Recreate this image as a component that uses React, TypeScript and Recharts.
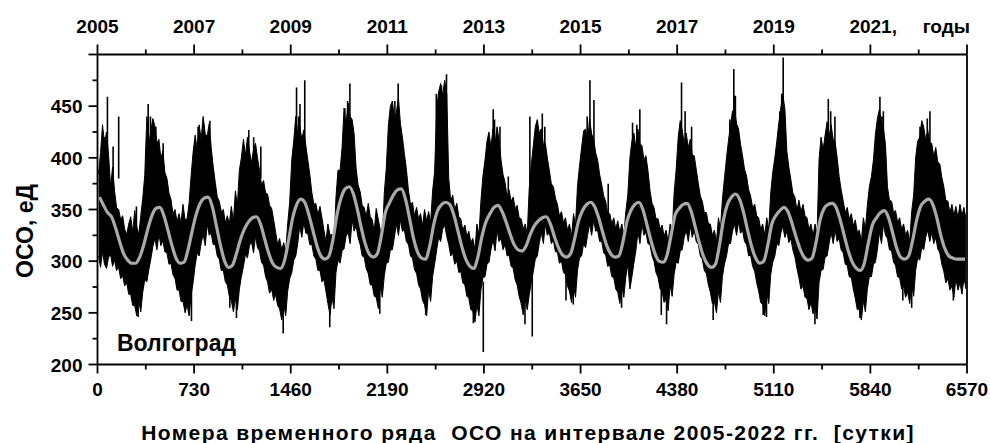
import React from "react";
import { ComposedChart, Area, Line, XAxis, YAxis, ReferenceLine } from "recharts";

// day ticks along the bottom axis (odd years are minor ticks)
const dayTicks = [
  0, 365, 730, 1095, 1460, 1825, 2190, 2555, 2920, 3285, 3650, 4015, 4380, 4745, 5110, 5475, 5840, 6205, 6570,
];
const ozoneTicks = [200, 225, 250, 275, 300, 325, 350, 375, 400, 425, 450, 475, 500];
const ozoneLabels = [200, 250, 300, 350, 400, 450];
const yearLabels = ["2005", "2007", "2009", "2011", "2013", "2015", "2017", "2019", "2021,", "годы"];

// upper edge of the daily series, two values per month (2005..2022)
const upper = [
  385, 405, 432, 414, 425, 402, 372, 391, 368, 352, 350, 340, 344, 331, 326, 336, 343, 328, 349, 333, 326, 344, 361, 383,
  440, 414, 426, 438, 431, 414, 418, 399, 407, 386, 380, 366, 360, 346, 350, 338, 346, 337, 355, 340, 341, 356, 382, 405,
  422, 408, 432, 418, 440, 423, 421, 433, 410, 392, 376, 362, 358, 348, 350, 337, 344, 336, 353, 339, 368, 354, 388, 400,
  418, 402, 420, 407, 395, 408, 414, 400, 388, 374, 378, 366, 365, 354, 351, 340, 328, 316, 322, 311, 318, 309, 336, 357,
  398, 417, 440, 423, 431, 418, 427, 412, 398, 384, 366, 355, 356, 345, 353, 342, 330, 319, 336, 325, 326, 315, 362, 388,
  388, 410, 448, 432, 453, 440, 437, 423, 390, 374, 367, 354, 352, 343, 356, 343, 340, 329, 351, 340, 330, 318, 366, 390,
  432, 450, 455, 438, 444, 458, 433, 420, 404, 389, 368, 355, 357, 344, 352, 341, 346, 334, 350, 339, 348, 337, 368, 386,
  448, 464, 472, 460, 475, 462, 380, 358, 364, 350, 356, 343, 341, 330, 335, 324, 329, 318, 322, 311, 336, 325, 358, 382,
  398, 416, 425, 410, 428, 414, 430, 417, 398, 384, 376, 362, 369, 358, 362, 351, 354, 342, 341, 331, 336, 326, 370, 392,
  412, 430, 437, 424, 428, 413, 414, 400, 388, 375, 372, 361, 355, 344, 348, 337, 342, 330, 336, 324, 346, 335, 373, 392,
  410, 426, 428, 414, 438, 423, 418, 405, 398, 384, 374, 363, 358, 346, 346, 336, 342, 331, 339, 328, 336, 325, 348, 364,
  400, 416, 424, 410, 428, 413, 412, 398, 402, 388, 368, 356, 352, 341, 341, 331, 335, 324, 330, 319, 336, 325, 366, 388,
  420, 436, 427, 414, 424, 410, 418, 403, 402, 389, 375, 363, 358, 347, 347, 336, 336, 325, 330, 319, 342, 331, 360, 380,
  400, 417, 432, 445, 448, 433, 428, 413, 402, 389, 382, 369, 363, 352, 355, 344, 342, 331, 336, 325, 342, 331, 366, 386,
  400, 416, 434, 448, 462, 447, 406, 391, 379, 366, 362, 349, 359, 348, 355, 344, 342, 331, 336, 325, 336, 325, 398, 420,
  408, 422, 435, 420, 432, 418, 415, 400, 382, 369, 358, 347, 352, 341, 346, 334, 340, 328, 330, 319, 342, 331, 354, 372,
  382, 398, 423, 438, 447, 434, 428, 413, 372, 359, 358, 347, 349, 338, 342, 331, 336, 325, 330, 319, 348, 364, 400, 416,
  420, 436, 430, 417, 427, 414, 414, 401, 410, 396, 394, 381, 372, 359, 358, 347, 355, 344, 353, 342, 355, 344, 352, 341,
];

// lower edge of the daily series, two values per month
const lower = [
  305, 294, 309, 297, 293, 304, 306, 295, 301, 291, 294, 283, 286, 276, 279, 268, 268, 257, 257, 247, 262, 251, 270, 282,
  280, 292, 302, 314, 322, 311, 326, 315, 320, 309, 308, 297, 298, 287, 283, 272, 272, 261, 261, 250, 258, 247, 267, 279,
  296, 308, 305, 317, 326, 315, 336, 325, 327, 316, 316, 305, 302, 291, 291, 280, 277, 266, 262, 251, 264, 253, 273, 285,
  295, 307, 303, 315, 319, 308, 324, 313, 310, 299, 296, 285, 280, 269, 273, 262, 268, 257, 254, 243, 258, 247, 271, 283,
  289, 301, 305, 317, 334, 323, 338, 327, 327, 316, 316, 305, 302, 291, 291, 280, 282, 271, 259, 248, 265, 254, 289, 301,
  298, 310, 312, 324, 328, 317, 340, 329, 334, 323, 316, 305, 304, 293, 288, 277, 277, 266, 265, 254, 276, 265, 286, 298,
  299, 311, 311, 323, 336, 325, 340, 329, 330, 319, 316, 305, 303, 292, 288, 277, 273, 262, 258, 247, 272, 261, 285, 297,
  311, 323, 319, 331, 335, 324, 316, 305, 308, 297, 300, 289, 290, 279, 277, 266, 264, 253, 252, 241, 258, 247, 272, 284,
  285, 297, 299, 311, 321, 310, 330, 319, 322, 311, 316, 305, 306, 295, 293, 282, 277, 266, 259, 248, 264, 253, 267, 279,
  290, 302, 305, 317, 328, 317, 336, 325, 328, 317, 320, 309, 309, 298, 300, 289, 287, 276, 271, 260, 276, 265, 291, 303,
  305, 317, 313, 325, 336, 325, 340, 329, 330, 319, 319, 308, 306, 295, 296, 285, 284, 273, 270, 259, 276, 265, 285, 297,
  273, 285, 298, 310, 328, 317, 336, 325, 328, 317, 316, 305, 300, 289, 284, 273, 271, 260, 263, 252, 277, 266, 287, 299,
  298, 310, 311, 323, 330, 319, 334, 323, 330, 319, 316, 305, 302, 291, 288, 277, 270, 259, 261, 250, 271, 260, 285, 297,
  305, 317, 317, 329, 336, 325, 338, 327, 330, 319, 316, 305, 306, 295, 290, 279, 271, 260, 258, 247, 270, 259, 287, 299,
  305, 317, 315, 327, 334, 323, 329, 318, 322, 311, 304, 293, 284, 273, 276, 265, 264, 253, 260, 249, 255, 244, 279, 291,
  292, 304, 305, 317, 328, 317, 330, 319, 322, 311, 308, 297, 296, 285, 284, 273, 264, 253, 254, 243, 262, 251, 273, 285,
  285, 297, 299, 311, 328, 317, 336, 325, 322, 311, 310, 299, 296, 285, 284, 273, 276, 265, 270, 259, 277, 266, 291, 303,
  301, 313, 311, 323, 330, 319, 328, 317, 323, 312, 308, 297, 290, 279, 283, 272, 276, 265, 283, 272, 279, 268, 284, 273,
];

// smoothed series (grey curve), monthly
const smooth = [
  362, 354, 347, 343, 332, 319, 307, 301, 298, 298, 304, 316,
  331, 344, 351, 352, 344, 330, 315, 303, 298, 299, 311, 329,
  345, 356, 361, 362, 353, 335, 316, 301, 294, 296, 307, 321,
  331, 338, 342, 343, 336, 322, 308, 298, 294, 293, 301, 321,
  342, 355, 360, 357, 345, 330, 315, 305, 302, 305, 321, 345,
  361, 370, 372, 366, 351, 333, 317, 307, 304, 307, 324, 347,
  356, 364, 369, 370, 360, 342, 322, 309, 303, 302, 314, 335,
  349, 355, 357, 355, 345, 330, 314, 302, 295, 293, 304, 324,
  338, 346, 352, 354, 348, 338, 326, 316, 311, 310, 315, 326,
  334, 339, 342, 343, 336, 324, 313, 306, 304, 307, 321, 339,
  349, 355, 357, 353, 342, 328, 315, 307, 304, 305, 318, 338,
  349, 355, 357, 350, 335, 320, 307, 300, 299, 306, 325, 345,
  351, 355, 356, 348, 333, 318, 305, 297, 294, 297, 315, 340,
  355, 362, 365, 360, 347, 330, 314, 303, 298, 300, 315, 336,
  344, 349, 352, 348, 337, 324, 312, 304, 301, 303, 318, 340,
  351, 355, 356, 352, 340, 325, 310, 299, 293, 291, 298, 318,
  335, 342, 347, 349, 342, 328, 313, 304, 302, 305, 320, 340,
  353, 358, 360, 355, 342, 325, 312, 305, 303, 302, 302, 302,
];

// single-day extremes: [day, low, high]
const spikes: [number, number, number][] = [
  [50, 380, 420], [75, 390, 459], [118, 370, 411], [160, 380, 440], [294, 320, 353],
  [307, 246, 280], [383, 380, 452], [400, 390, 440], [441, 400, 430], [496, 380, 414],
  [710, 242, 290], [760, 400, 430], [805, 400, 432], [849, 400, 436], [1000, 255, 290],
  [1050, 245, 290], [1143, 390, 427], [1180, 390, 420], [1234, 380, 411], [1403, 230, 280],
  [1504, 400, 468], [1520, 400, 440], [1530, 400, 452], [1566, 400, 475], [1755, 236, 290],
  [1869, 400, 448], [1890, 420, 455], [1907, 400, 472], [2133, 249, 290], [2230, 410, 440],
  [2247, 400, 455], [2272, 400, 472], [2480, 248, 290], [2560, 420, 462], [2599, 420, 470],
  [2637, 420, 481], [2840, 240, 280], [2915, 212, 280], [2990, 390, 447], [3000, 400, 437],
  [3041, 390, 430], [3104, 340, 382], [3230, 239, 290], [3267, 360, 440], [3285, 227, 300],
  [3361, 390, 443], [3380, 400, 430], [3540, 262, 300], [3595, 258, 300], [3700, 400, 440],
  [3721, 390, 475], [3751, 390, 456], [3859, 320, 375], [3960, 255, 300], [4043, 380, 434],
  [4075, 400, 432], [4098, 390, 447], [4260, 248, 290], [4300, 239, 290], [4413, 390, 473],
  [4440, 400, 445], [4489, 380, 430], [4652, 243, 290], [4778, 400, 437], [4808, 400, 486],
  [4820, 420, 460], [5030, 248, 290], [5055, 246, 290], [5156, 400, 445], [5170, 420, 462],
  [5181, 420, 497], [5421, 239, 290], [5522, 390, 457], [5540, 400, 445], [5572, 390, 440],
  [5761, 245, 290], [5912, 390, 459], [5925, 400, 440], [5938, 390, 445], [6085, 262, 300],
  [6152, 255, 300], [6215, 380, 430], [6270, 400, 438], [6290, 390, 445], [6467, 262, 300],
];

const bandRows = upper.map((hi, i) => ({
  day: Math.round(((i + 0.5) * 365) / 24),
  band: [lower[i], hi],
}));

const smoothRows = smooth.map((v, i) => ({
  day: Math.round(((i + 0.5) * 365) / 12),
  smooth: v,
}));

const spikeRows = spikes.flatMap(([day, lo, hi]) => [
  { day, v: lo },
  { day, v: hi },
  { day, v: null },
]);

const font = {
  fontFamily: '"Liberation Sans", Arial, sans-serif',
  fontWeight: 700,
  fontSize: 19,
  fill: "#000",
};

const BottomTick = (props: any) => {
  const { x, y, payload } = props;
  const major = payload.value % 730 === 0;
  return (
    <g>
      <line x1={x} y1={y} x2={x} y2={y + (major ? 9 : 5)} stroke="#000" strokeWidth={1.8} />
      {major && (
        <text x={x} y={y + 31.5} textAnchor="middle" style={font}>
          {payload.value}
        </text>
      )}
    </g>
  );
};

const TopTick = (props: any) => {
  const { x, y, payload } = props;
  const idx = payload.value / 730;
  const major = Number.isInteger(idx);
  const label = major ? yearLabels[idx] : null;
  let text = null;
  if (label === "годы") {
    text = (
      <text x={x + 3} y={y - 21.5} textAnchor="end" style={font}>
        {label}
      </text>
    );
  } else if (label && label.endsWith(",")) {
    text = (
      <text x={x - 21} y={y - 21.5} textAnchor="start" style={font}>
        {label}
      </text>
    );
  } else if (label) {
    text = (
      <text x={x} y={y - 21.5} textAnchor="middle" style={font}>
        {label}
      </text>
    );
  }
  return (
    <g>
      <line x1={x} y1={y} x2={x} y2={y - (major ? 10 : 5)} stroke="#000" strokeWidth={1.8} />
      {text}
    </g>
  );
};

const LeftTick = (props: any) => {
  const { x, y, payload } = props;
  const major = payload.value % 50 === 0;
  const show = ozoneLabels.includes(payload.value);
  return (
    <g>
      <line x1={x} y1={y} x2={x - (major ? 9 : 5)} y2={y} stroke="#000" strokeWidth={1.8} />
      {show && (
        <text x={x - 15} y={y + 7} textAnchor="end" style={font}>
          {payload.value}
        </text>
      )}
    </g>
  );
};

const axisLine = { stroke: "#000", strokeWidth: 1.8 };

export default function App() {
  return (
    <div style={{ position: "absolute", left: 0, top: 0, width: 990, height: 443, background: "#fff" }}>
      <ComposedChart
        width={990}
        height={443}
        data={bandRows}
        margin={{ top: 0, right: 23, bottom: 0, left: 0 }}
      >
        <XAxis
          dataKey="day"
          type="number"
          domain={[0, 6570]}
          allowDataOverflow
          ticks={dayTicks}
          interval={0}
          tickSize={0}
          tickMargin={0}
          height={78.5}
          axisLine={axisLine}
          tick={(p: any) => <BottomTick {...p} />}
        />
        <XAxis
          xAxisId="top"
          orientation="top"
          dataKey="day"
          type="number"
          domain={[0, 6570]}
          allowDataOverflow
          ticks={dayTicks}
          interval={0}
          tickSize={0}
          tickMargin={0}
          height={54.5}
          axisLine={axisLine}
          tick={(p: any) => <TopTick {...p} />}
        />
        <YAxis
          type="number"
          domain={[200, 500]}
          allowDataOverflow
          ticks={ozoneTicks}
          interval={0}
          tickSize={0}
          tickMargin={0}
          width={97.5}
          axisLine={axisLine}
          tick={(p: any) => <LeftTick {...p} />}
        />
        <ReferenceLine x={6570} stroke="#000" strokeWidth={1.8} />
        <Area
          dataKey="band"
          type="linear"
          stroke="#000"
          strokeWidth={1}
          fill="#000"
          fillOpacity={1}
          isAnimationActive={false}
        />
        <Line
          data={spikeRows}
          dataKey="v"
          type="linear"
          stroke="#000"
          strokeWidth={1.6}
          dot={false}
          connectNulls={false}
          isAnimationActive={false}
        />
        <Line
          data={smoothRows}
          dataKey="smooth"
          type="monotone"
          stroke="#aaaaaa"
          strokeWidth={3.2}
          dot={false}
          isAnimationActive={false}
        />
      </ComposedChart>
      <svg
        width={990}
        height={443}
        style={{ position: "absolute", left: 0, top: 0, pointerEvents: "none" }}
      >
        <text x={117} y={351} style={{ ...font, fontSize: 23 }}>
          Волгоград
        </text>
        <text
          transform="translate(33, 231) rotate(-90)"
          textAnchor="middle"
          style={{ ...font, fontSize: 23 }}
        >
          ОСО, еД
        </text>
        <text
          x={528}
          y={440}
          textAnchor="middle"
          style={{ ...font, fontSize: 21, letterSpacing: 1.4, whiteSpace: "pre" }}
        >
          Номера временного ряда  ОСО на интервале 2005-2022 гг.  [сутки]
        </text>
      </svg>
    </div>
  );
}
